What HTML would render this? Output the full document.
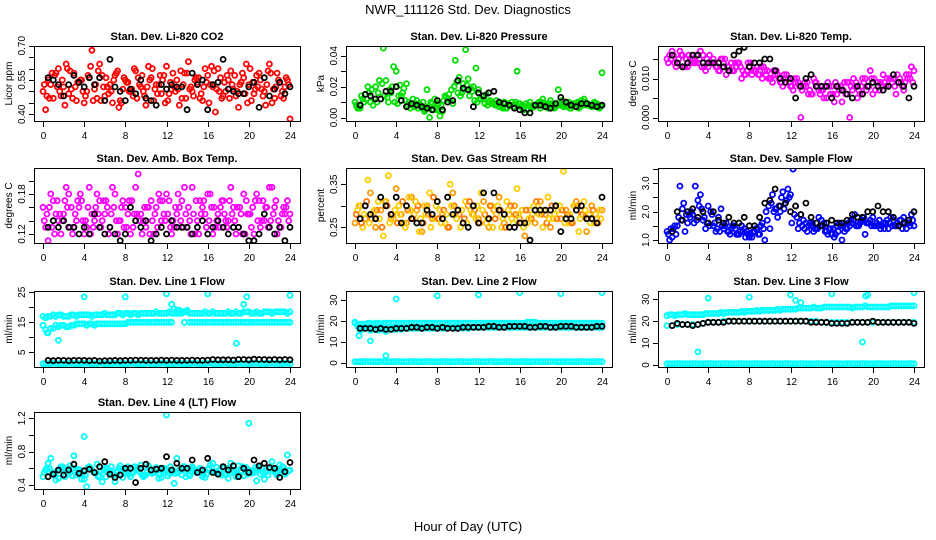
<!DOCTYPE html>
<html><head><meta charset="utf-8"><title>NWR_111126 Std. Dev. Diagnostics</title>
<style>
html,body{margin:0;padding:0;background:#fff;}
svg{display:block;font-family:"Liberation Sans",Arial,sans-serif;}
</style></head>
<body>
<svg id="chart" width="936" height="540" viewBox="0 0 936 540" xmlns="http://www.w3.org/2000/svg">
<text x="468" y="14" text-anchor="middle" font-size="13">NWR_111126  Std. Dev. Diagnostics</text>
<text x="468" y="531" text-anchor="middle" font-size="13">Hour of Day (UTC)</text>
</svg>
<script>
// shared hour categories
const hoursA = [0,0.5,1,1.5,2,2.5,3,3.5,4,4.5,5,5.5,6,6.5,7,7.5,8,8.5,9,9.5,10,10.5,11,11.5,12,12.5,13,13.5,14,14.5,15,15.5,16,16.5,17,17.5,18,18.5,19,19.5,20,20.5,21,21.5,22,22.5,23,23.5,24];
const hoursB = [0.25,0.75,1.25,1.75,2.25,2.75,3.25,3.75,4.25,4.75,5.25,5.75,6.25,6.75,7.25,7.75,8.25,8.75,9.25,9.75,10.25,10.75,11.25,11.75,12.25,12.75,13.25,13.75,14.25,14.75,15.25,15.75,16.25,16.75,17.25,17.75,18.25,18.75,19.25,19.75,20.25,20.75,21.25,21.75,22.25,22.75,23.25,23.75];
const hoursC = [0.125,0.625,1.125,1.625,2.125,2.625,3.125,3.625,4.125,4.625,5.125,5.625,6.125,6.625,7.125,7.625,8.125,8.625,9.125,9.625,10.125,10.625,11.125,11.625,12.125,12.625,13.125,13.625,14.125,14.625,15.125,15.625,16.125,16.625,17.125,17.625,18.125,18.625,19.125,19.625,20.125,20.625,21.125,21.625,22.125,22.625,23.125,23.625];
const hoursD = [0.375,0.875,1.375,1.875,2.375,2.875,3.375,3.875,4.375,4.875,5.375,5.875,6.375,6.875,7.375,7.875,8.375,8.875,9.375,9.875,10.375,10.875,11.375,11.875,12.375,12.875,13.375,13.875,14.375,14.875,15.375,15.875,16.375,16.875,17.375,17.875,18.375,18.875,19.375,19.875,20.375,20.875,21.375,21.875,22.375,22.875,23.375,23.875];
const hoursK = [0.5,1,1.5,2,2.5,3,3.5,4,4.5,5,5.5,6,6.5,7,7.5,8,8.5,9,9.5,10,10.5,11,11.5,12,12.5,13,13.5,14,14.5,15,15.5,16,16.5,17,17.5,18,18.5,19,19.5,20,20.5,21,21.5,22,22.5,23,23.5,24];
const xTicks = [0,4,8,12,16,20,24];

// CO2
const co2A = [0.50,0.55,0.47,0.60,0.52,0.49,0.58,0.54,0.45,0.56,0.51,0.62,0.48,0.53,0.57,0.46,0.55,0.50,0.59,0.52,0.44,0.56,0.53,0.49,0.61,0.51,0.55,0.47,0.58,0.50,0.54,0.46,0.57,0.52,0.60,0.48,0.55,0.51,0.43,0.56,0.53,0.49,0.58,0.50,0.62,0.47,0.54,0.52,0.38];
const co2B = [0.42,0.53,0.58,0.48,0.62,0.51,0.46,0.55,0.50,0.68,0.47,0.57,0.52,0.45,0.59,0.51,0.54,0.48,0.56,0.50,0.61,0.46,0.53,0.57,0.49,0.52,0.44,0.58,0.51,0.55,0.47,0.60,0.53,0.41,0.56,0.50,0.59,0.48,0.54,0.62,0.46,0.57,0.51,0.53,0.45,0.58,0.50,0.55];
const co2C = [0.53,0.47,0.57,0.50,0.44,0.59,0.52,0.55,0.48,0.61,0.53,0.46,0.56,0.50,0.58,0.45,0.54,0.51,0.47,0.57,0.52,0.60,0.49,0.55,0.46,0.58,0.51,0.53,0.63,0.48,0.56,0.52,0.45,0.59,0.50,0.54,0.47,0.57,0.53,0.49,0.60,0.51,0.55,0.44,0.58,0.52,0.48,0.56];
const co2D = [0.48,0.58,0.52,0.55,0.60,0.47,0.54,0.50,0.57,0.46,0.59,0.52,0.49,0.55,0.43,0.56,0.50,0.60,0.53,0.48,0.55,0.51,0.57,0.45,0.54,0.50,0.59,0.47,0.52,0.56,0.49,0.54,0.61,0.51,0.47,0.57,0.53,0.50,0.58,0.45,0.54,0.52,0.48,0.59,0.51,0.55,0.47,0.53];
const co2K = [0.56,0.55,0.53,0.48,0.53,0.57,0.54,0.52,0.56,0.53,0.56,0.46,0.64,0.52,0.50,0.46,0.51,0.49,0.55,0.47,0.46,0.44,0.53,0.51,0.53,0.52,0.52,0.42,0.58,0.53,0.55,0.42,0.53,0.54,0.64,0.51,0.50,0.49,0.49,0.52,0.54,0.43,0.56,0.48,0.51,0.54,0.49,0.52];
// Pressure
const presA = [0.010,0.006,0.015,0.010,0.020,0.012,0.024,0.016,0.030,0.014,0.022,0.008,0.011,0.006,0.018,0.009,0.005,0.004,0.012,0.009,0.016,0.022,0.025,0.020,0.018,0.012,0.010,0.009,0.007,0.010,0.008,0.006,0.009,0.007,0.010,0.008,0.006,0.009,0.011,0.007,0.008,0.010,0.006,0.009,0.011,0.008,0.007,0.009,0.029];
const presB = [0.006,0.012,0.020,0.008,0.016,0.045,0.010,0.033,0.014,0.019,0.010,0.007,0.009,0.004,0.000,0.012,0.001,0.014,0.011,0.037,0.014,0.044,0.019,0.032,0.012,0.015,0.009,0.011,0.007,0.006,0.010,0.030,0.008,0.005,0.007,0.009,0.012,0.006,0.008,0.018,0.007,0.010,0.009,0.006,0.012,0.008,0.010,0.006];
const presC = [0.008,0.014,0.012,0.018,0.010,0.022,0.013,0.020,0.009,0.016,0.008,0.012,0.006,0.010,0.007,0.005,0.009,0.011,0.015,0.020,0.026,0.018,0.014,0.011,0.012,0.009,0.011,0.008,0.009,0.006,0.008,0.010,0.007,0.009,0.006,0.008,0.010,0.007,0.009,0.008,0.011,0.007,0.009,0.010,0.008,0.009,0.007,0.008];
const presD = [0.006,0.010,0.016,0.012,0.024,0.014,0.018,0.010,0.021,0.011,0.006,0.009,0.008,0.005,0.010,0.006,0.008,0.013,0.018,0.023,0.016,0.021,0.017,0.010,0.014,0.008,0.010,0.009,0.006,0.009,0.007,0.009,0.005,0.008,0.007,0.010,0.008,0.009,0.006,0.010,0.008,0.006,0.009,0.007,0.010,0.008,0.009,0.007];
const presK = [0.008,0.015,0.014,0.012,0.012,0.017,0.017,0.020,0.011,0.007,0.009,0.008,0.007,0.006,0.005,0.011,0.005,0.010,0.011,0.024,0.019,0.018,0.007,0.016,0.014,0.016,0.017,0.010,0.009,0.008,0.006,0.005,0.003,0.003,0.008,0.008,0.007,0.006,0.009,0.013,0.010,0.008,0.007,0.009,0.009,0.008,0.007,0.008];
// Li-820 Temp
const tempA = [0.015,0.017,0.014,0.016,0.013,0.015,0.014,0.016,0.013,0.015,0.012,0.014,0.013,0.012,0.014,0.011,0.013,0.012,0.011,0.012,0.010,0.011,0.009,0.010,0.008,0.009,0.000,0.008,0.006,0.009,0.007,0.005,0.008,0.006,0.004,0.009,0.007,0.005,0.010,0.008,0.006,0.009,0.011,0.008,0.010,0.009,0.007,0.011,0.012];
const tempB = [0.016,0.014,0.017,0.013,0.015,0.014,0.017,0.012,0.014,0.013,0.015,0.011,0.014,0.013,0.010,0.012,0.011,0.013,0.010,0.012,0.009,0.011,0.008,0.010,0.007,0.009,0.008,0.006,0.010,0.007,0.005,0.008,0.004,0.007,0.009,0.000,0.008,0.006,0.010,0.012,0.007,0.009,0.008,0.010,0.006,0.009,0.011,0.013];
const tempC = [0.014,0.016,0.015,0.013,0.016,0.014,0.015,0.013,0.016,0.014,0.012,0.015,0.012,0.014,0.013,0.011,0.014,0.012,0.013,0.011,0.010,0.012,0.009,0.011,0.008,0.010,0.007,0.009,0.006,0.008,0.007,0.009,0.006,0.008,0.007,0.009,0.010,0.007,0.009,0.008,0.010,0.007,0.009,0.010,0.008,0.010,0.009,0.010];
const tempD = [0.015,0.013,0.016,0.015,0.014,0.016,0.013,0.015,0.014,0.013,0.015,0.013,0.012,0.014,0.012,0.014,0.012,0.011,0.013,0.010,0.012,0.010,0.011,0.009,0.010,0.008,0.009,0.007,0.009,0.006,0.008,0.006,0.009,0.008,0.006,0.008,0.009,0.008,0.007,0.010,0.009,0.008,0.010,0.009,0.011,0.008,0.010,0.009];
const tempK = [0.016,0.014,0.013,0.014,0.016,0.016,0.014,0.014,0.014,0.014,0.013,0.012,0.016,0.017,0.018,0.013,0.014,0.014,0.015,0.015,0.012,0.010,0.009,0.010,0.005,0.008,0.010,0.011,0.008,0.008,0.008,0.005,0.008,0.007,0.006,0.005,0.008,0.006,0.008,0.009,0.008,0.007,0.008,0.011,0.009,0.008,0.005,0.008];
// Amb box temp
const ambA = [0.16,0.11,0.17,0.14,0.15,0.18,0.13,0.16,0.12,0.19,0.14,0.17,0.15,0.13,0.18,0.14,0.16,0.12,0.19,0.15,0.13,0.17,0.16,0.14,0.18,0.12,0.15,0.17,0.13,0.19,0.14,0.16,0.18,0.12,0.15,0.17,0.14,0.16,0.13,0.18,0.15,0.12,0.17,0.14,0.19,0.16,0.13,0.15,0.15];
const ambB = [0.13,0.18,0.15,0.12,0.19,0.16,0.14,0.17,0.13,0.15,0.18,0.14,0.16,0.19,0.12,0.17,0.15,0.13,0.21,0.14,0.16,0.12,0.18,0.15,0.17,0.13,0.16,0.19,0.14,0.12,0.17,0.15,0.18,0.13,0.16,0.14,0.19,0.12,0.15,0.17,0.13,0.18,0.14,0.16,0.19,0.12,0.15,0.17];
const ambC = [0.14,0.16,0.12,0.15,0.17,0.13,0.15,0.18,0.14,0.12,0.16,0.13,0.17,0.15,0.14,0.16,0.13,0.17,0.15,0.12,0.16,0.14,0.13,0.17,0.15,0.14,0.18,0.13,0.16,0.15,0.12,0.17,0.14,0.16,0.13,0.15,0.17,0.14,0.16,0.12,0.15,0.17,0.13,0.16,0.14,0.17,0.13,0.16];
const ambD = [0.15,0.13,0.17,0.14,0.16,0.12,0.17,0.14,0.16,0.13,0.15,0.17,0.12,0.16,0.14,0.13,0.17,0.15,0.14,0.16,0.12,0.15,0.17,0.14,0.13,0.16,0.14,0.15,0.12,0.17,0.15,0.13,0.16,0.14,0.17,0.13,0.15,0.16,0.12,0.15,0.16,0.14,0.17,0.13,0.15,0.14,0.16,0.14];
const ambK = [0.13,0.14,0.13,0.14,0.13,0.13,0.12,0.13,0.12,0.15,0.13,0.12,0.13,0.12,0.11,0.12,0.16,0.14,0.13,0.14,0.11,0.12,0.13,0.12,0.14,0.13,0.13,0.13,0.12,0.13,0.14,0.12,0.13,0.14,0.13,0.12,0.13,0.13,0.12,0.11,0.11,0.12,0.15,0.13,0.12,0.13,0.11,0.13];
// Gas stream RH
const rhA = [0.26,0.30,0.27,0.33,0.25,0.29,0.31,0.27,0.34,0.28,0.26,0.32,0.29,0.24,0.30,0.27,0.31,0.28,0.25,0.33,0.29,0.26,0.30,0.28,0.27,0.31,0.25,0.29,0.32,0.26,0.28,0.30,0.27,0.23,0.29,0.26,0.31,0.28,0.25,0.30,0.27,0.29,0.26,0.31,0.28,0.24,0.30,0.27,0.29];
const rhB = [0.29,0.25,0.36,0.28,0.31,0.23,0.37,0.27,0.30,0.26,0.32,0.28,0.24,0.30,0.33,0.27,0.29,0.26,0.35,0.28,0.25,0.31,0.29,0.27,0.33,0.26,0.30,0.28,0.25,0.31,0.27,0.34,0.29,0.26,0.28,0.30,0.25,0.32,0.27,0.29,0.38,0.26,0.30,0.24,0.31,0.28,0.26,0.29];
const rhC = [0.28,0.26,0.31,0.27,0.29,0.25,0.30,0.28,0.26,0.31,0.29,0.27,0.30,0.26,0.28,0.32,0.27,0.29,0.25,0.30,0.28,0.27,0.31,0.29,0.26,0.28,0.30,0.27,0.29,0.25,0.30,0.28,0.26,0.29,0.27,0.31,0.28,0.26,0.30,0.27,0.29,0.28,0.26,0.30,0.28,0.27,0.29,0.26];
const rhD = [0.30,0.28,0.26,0.29,0.27,0.31,0.26,0.29,0.28,0.25,0.29,0.31,0.27,0.28,0.25,0.30,0.26,0.28,0.30,0.27,0.29,0.26,0.28,0.30,0.29,0.27,0.25,0.30,0.27,0.29,0.26,0.28,0.25,0.27,0.30,0.28,0.29,0.27,0.28,0.30,0.26,0.28,0.30,0.27,0.29,0.26,0.28,0.27];
const rhK = [0.27,0.30,0.28,0.27,0.32,0.30,0.28,0.32,0.26,0.30,0.27,0.26,0.26,0.29,0.28,0.31,0.27,0.32,0.28,0.29,0.26,0.25,0.30,0.26,0.33,0.27,0.33,0.29,0.28,0.25,0.25,0.26,0.26,0.22,0.29,0.29,0.29,0.29,0.30,0.24,0.27,0.27,0.29,0.30,0.27,0.27,0.26,0.32];
// Sample flow
const sfA = [1.3,1.1,1.5,2.1,1.6,1.9,2.4,1.7,2.2,1.5,1.8,1.4,1.3,1.5,1.2,1.4,1.1,1.3,1.2,1.0,1.4,2.1,2.0,2.3,2.6,2.2,1.9,1.6,1.5,1.4,1.7,1.3,1.2,1.5,1.0,1.4,1.6,1.5,1.7,1.6,1.8,1.5,1.6,1.4,1.7,1.5,1.8,1.6,1.5];
const sfB = [1.0,1.5,2.9,1.3,1.8,2.9,2.6,1.4,2.0,1.3,2.1,1.6,1.4,1.2,1.5,1.3,1.1,1.4,1.6,1.7,2.6,1.8,2.7,2.8,3.5,1.4,1.7,1.5,1.3,1.8,1.6,1.4,1.1,1.6,1.3,1.5,1.9,1.6,1.2,1.7,1.5,1.4,1.6,1.8,1.5,1.7,1.4,1.9];
const sfC = [1.2,1.4,1.8,2.3,1.9,1.6,2.2,1.8,1.5,1.6,1.3,1.5,1.2,1.4,1.3,1.1,1.2,1.4,1.5,2.0,2.3,2.1,2.5,2.4,1.6,1.8,1.5,1.3,1.6,1.4,1.5,1.2,1.4,1.3,1.5,1.6,1.7,1.5,1.8,1.6,1.5,1.7,1.4,1.6,1.5,1.7,1.6,1.5];
const sfD = [1.4,1.2,1.7,1.9,2.0,1.7,2.1,1.6,1.9,1.4,1.5,1.3,1.5,1.2,1.3,1.2,1.3,1.2,1.4,2.2,2.0,2.2,2.1,2.5,1.9,1.6,1.4,1.6,1.4,1.5,1.3,1.4,1.2,1.5,1.4,1.7,1.5,1.7,1.6,1.5,1.6,1.5,1.7,1.5,1.6,1.4,1.6,1.7];
const sfK = [1.3,2.0,1.7,2.0,2.1,1.8,2.0,1.6,2.0,1.7,1.6,1.8,1.6,1.6,1.8,1.5,1.5,1.8,2.3,2.4,2.8,2.2,2.3,2.0,2.2,1.9,2.3,1.8,1.6,1.5,1.6,1.7,1.6,1.6,1.7,1.9,1.8,1.8,2.0,2.0,2.2,2.0,2.0,1.8,1.5,1.6,1.7,2.0];
// Line 1 flow
const l1Upper = [17,17,17.5,17.5,17,17,17.5,17.5,17.5,17.5,17.5,17.5,18,17.5,17.5,18,18,17.5,18,18,18,18,18.5,18,18,18,18,18,18.5,18,18,18,18,18.5,18,18,18.5,18,18,18.5,18.5,18,18,18.5,18.5,18.5,18.5,18.5,18.5];
const l1Upper2 = [16.5,17,17,17.5,17,17.5,17,17.5,17.5,17,17.5,17.5,17.5,17.5,18,17.5,18,18,17.5,18,18,18,18,18,18.5,18,18,18.5,18,18,18,18.5,18,18,18,18,18,18.5,18,18.5,18,18.5,18,18.5,18,18.5,18.5,18];
const l1Lower = [14,11.5,13,13.5,14,13.5,14,14.5,14.5,14.5,14,14.5,14.5,14.5,14.5,14.5,14.5,15,15,15,15,15,15,15,15,15,19,18.5,19,15,15,15,15,15,15,15,15,15,15,15,15,15,15,15,15,15,15,15,15];
const l1Lower2 = [12.5,13,14,14,13.5,14,14.5,14.5,14,14.5,14.5,14.5,14.5,14.5,14.5,14.5,15,15,15,15,15,15,15,15,15,19.5,19,15,15,15,15,15,15,15,15,15,15,15,15,15,15,15,15,15,15,15,15,15];
const l1Base = [1.2,1.2,1.3,1.2,1.2,1.3,1.2,1.2,1.3,1.2,1.2,1.3,1.2,1.2,1.3,1.2,1.2,1.3,1.2,1.2,1.3,1.2,1.2,1.3,1.2,1.2,1.3,1.2,1.2,1.3,1.2,1.2,1.3,1.2,1.2,1.3,1.2,1.2,1.3,1.2,1.2,1.3,1.2,1.2,1.3,1.2,1.2,1.3,1.2];
const l1OutHours = [0,0.4,1.5,4,8,12,12.5,16,18.8,19.5,19.8,24];
const l1OutVals = [14,11.5,9,23.5,23.5,24.5,21,24.5,8,21,23.5,24];
const l1K = [2.3,2.2,2.3,2.3,2.2,2.3,2.3,2.3,2.2,2.3,2.1,2.2,2.2,2.3,2.2,2.3,2.3,2.4,2.4,2.3,2.3,2.3,2.4,2.3,2.4,2.3,2.3,2.3,2.4,2.3,2.3,2.4,2.6,2.5,2.5,2.5,2.4,2.6,2.6,2.5,2.7,2.6,2.6,2.5,2.6,2.5,2.6,2.5];
// Line 2 flow
const l2Upper = [19,18.5,18.5,19,19,18.5,19,19,19,19,19,19,19,19,19,19,19,19,19,19,19,19,19,19,19,19,19,19,19,19,19,19,19,19,19.5,19.5,19,19,19,19,19,19,19,19,19,19,19,19,19];
const l2Upper2 = [18.5,18.5,19,18.5,19,19,19,19,19,19,19,19,19,19,19,19,19,19,19,19,19,19,19,19,19,19,19,19,19,19,19,19,19,19.5,19.5,19,19,19,19,19,19,19,19,19,19,19,19,19];
const l2Lower = [19.5,15.5,17,15.5,16,16,15,16,16,16,16.5,16.5,16.5,16.5,16.5,16.5,16.5,16.5,16.5,16.5,16.5,16.5,16.5,17,17,17,17,17,17,17,17,17,17,17,17,17,17,17,17,17,17,17,17,17,17,17,17,17,17];
const l2Lower2 = [17.5,16,16.5,16,15.5,16,16,16,16.5,16.5,16.5,16.5,16.5,16.5,16.5,16.5,17,16.5,17,16.5,17,17,17,17,17,17,17,17,17,17,17,17,17,17,17,17,17,17,17,17,17,17,17,17,17,17,17,17];
const l2Base = [0.6,0.6,0.7,0.6,0.6,0.7,0.6,0.6,0.7,0.6,0.6,0.7,0.6,0.6,0.7,0.6,0.6,0.7,0.6,0.6,0.7,0.6,0.6,0.7,0.6,0.6,0.7,0.6,0.6,0.7,0.6,0.6,0.7,0.6,0.6,0.7,0.6,0.6,0.7,0.6,0.6,0.7,0.6,0.6,0.7,0.6,0.6,0.7,0.6];
const l2OutHours = [0.4,1.5,3,4,8,12,16,20,24];
const l2OutVals = [13,10.5,3.5,30.5,32,32.5,33.5,33,33.5];
const l2K = [16.5,16.5,16.5,16,16.5,16,16,16.5,16.5,16.5,17,17,16.5,17,17,16.5,17,16.5,16.5,16.5,17,17,17,17,17,17.5,17.5,17,17,17.5,17.5,17.5,17.5,17,17,17.5,17.5,17,17,17.5,17.5,17.5,17,17,17,17,17.5,17.5];
// Line 3 flow
const l3Upper = [22.5,23,23,23,23,23,23,23,23.5,23.5,23.5,23.5,24,24,24,24,24.5,24.5,24.5,25,25,25,25,25.5,25.5,25.5,26,26,26,26,26,26.5,26.5,26.5,26.5,26.5,26,26.5,26.5,26.5,26.5,26.5,26.5,26.5,27,27,27,27,27];
const l3Upper2 = [23,22.5,23,23.5,23,23,23,23.5,23.5,23.5,24,24,24,24,24.5,24.5,24.5,25,25,25,25,25.5,25.5,25.5,25.5,26,26,26,26.5,26,26.5,26.5,26.5,26.5,26.5,26.5,26.5,26.5,27,26.5,26.5,26.5,26.5,27,27,27,27,27];
const l3Mid = [18,18,18.5,18.5,18.5,18.5,18.5,19,19.5,19.5,19.5,20,20,20,20,20,20,20,20,20,20,20,20,20,20,20,20,20,20,20,19.5,19.5,19.5,19.5,19.5,19.5,19.5,19.5,19.5,19.5,19.5,19.5,19.5,19.5,19.5,19.5,19.5,19.5,19.5];
const l3Base = [0.6,0.6,0.7,0.6,0.6,0.7,0.6,0.6,0.7,0.6,0.6,0.7,0.6,0.6,0.7,0.6,0.6,0.7,0.6,0.6,0.7,0.6,0.6,0.7,0.6,0.6,0.7,0.6,0.6,0.7,0.6,0.6,0.7,0.6,0.6,0.7,0.6,0.6,0.7,0.6,0.6,0.7,0.6,0.6,0.7,0.6,0.6,0.7,0.6];
const l3OutHours = [3,4,8,12,12.5,13,16,19,19.3,19.5,24];
const l3OutVals = [6,30.5,31,32,29.5,28.5,32.5,10.5,31.5,32,33];
const l3K = [18,19,18.5,18.5,18,18.5,19,19.5,19.5,19.5,19.5,20,20,20,20,20,20,20,20,20,20,20,20,20,20,20,20,19.5,19.5,19.5,19.5,19,19,19,19,19.5,19.5,19.5,19.5,20,19.5,19.5,19.5,19.5,19.5,19.5,19.5,19];
// Line 4 (LT) flow
const l4A = [0.50,0.66,0.55,0.48,0.60,0.53,0.75,0.58,0.47,0.62,0.55,0.51,0.60,0.57,0.44,0.63,0.55,0.50,0.58,0.64,0.52,0.57,0.61,0.49,0.59,0.55,0.72,0.52,0.58,0.62,0.55,0.50,0.59,0.66,0.54,0.60,0.48,0.57,0.63,0.51,0.58,0.55,0.62,0.47,0.59,0.56,0.64,0.53,0.58];
const l4B = [0.58,0.72,0.46,0.62,0.55,0.60,0.52,0.47,0.38,0.58,0.65,0.44,0.60,0.53,0.57,0.49,0.62,0.55,0.59,0.50,0.63,0.56,0.48,0.60,0.54,0.42,0.58,0.62,0.51,0.56,0.60,0.49,0.64,0.55,0.58,0.52,0.66,0.50,0.57,0.61,0.54,0.45,0.60,0.56,0.68,0.52,0.62,0.76];
const l4C = [0.55,0.60,0.52,0.58,0.50,0.63,0.55,0.58,0.52,0.60,0.54,0.57,0.50,0.62,0.56,0.53,0.59,0.55,0.61,0.52,0.57,0.54,0.60,0.56,0.51,0.58,0.55,0.62,0.53,0.59,0.56,0.52,0.60,0.55,0.58,0.53,0.61,0.56,0.52,0.59,0.55,0.61,0.53,0.57,0.60,0.54,0.58,0.55];
const l4D = [0.60,0.53,0.57,0.62,0.55,0.51,0.59,0.54,0.61,0.56,0.50,0.58,0.55,0.52,0.60,0.57,0.53,0.62,0.56,0.51,0.59,0.55,0.53,0.58,0.62,0.54,0.57,0.50,0.60,0.55,0.58,0.53,0.56,0.61,0.52,0.59,0.55,0.58,0.62,0.53,0.57,0.60,0.55,0.52,0.58,0.56,0.61,0.57];
const l4OutHours = [4,12,20];
const l4OutVals = [0.98,1.24,1.14];
const l4K = [0.50,0.53,0.58,0.52,0.58,0.65,0.54,0.57,0.59,0.55,0.62,0.68,0.53,0.49,0.52,0.60,0.60,0.43,0.60,0.65,0.58,0.59,0.60,0.74,0.58,0.66,0.60,0.60,0.70,0.55,0.58,0.72,0.55,0.53,0.62,0.58,0.63,0.50,0.60,0.55,0.70,0.63,0.66,0.61,0.60,0.49,0.56,0.67];

const panels = [
 {name:'co2',title:'Stan. Dev. Li-820 CO2',ylab:'Licor ppm',col:0,row:0,a:[0.40,114.3],b:[0.70,45.7],ticks:[0.40,0.45,0.50,0.55,0.60,0.65,0.70],labels:['0.40','0.55','0.70'],labelVals:[0.40,0.55,0.70],
  series:[[hoursA,co2A,'#ff0000'],[hoursB,co2B,'#ff0000'],[hoursC,co2C,'#ff0000'],[hoursD,co2D,'#ff0000'],[hoursK,co2K,'#000000']]},
 {name:'pressure',title:'Stan. Dev. Li-820 Pressure',ylab:'kPa',col:1,row:0,a:[0,117.5],b:[0.04,55.8],ticks:[0,0.01,0.02,0.03,0.04],labels:['0.00','0.02','0.04'],labelVals:[0,0.02,0.04],
  series:[[hoursA,presA,'#00dd00'],[hoursB,presB,'#00dd00'],[hoursC,presC,'#00dd00'],[hoursD,presD,'#00dd00'],[hoursK,presK,'#000000']]},
 {name:'li820-temp',title:'Stan. Dev. Li-820 Temp.',ylab:'degrees C',col:2,row:0,a:[0,117.5],b:[0.015,59],ticks:[0,0.005,0.010,0.015],labels:['0.000','0.010'],labelVals:[0,0.010],
  series:[[hoursA,tempA,'#ff00ff'],[hoursB,tempB,'#ff00ff'],[hoursC,tempC,'#ff00ff'],[hoursD,tempD,'#ff00ff'],[hoursK,tempK,'#000000']]},
 {name:'amb-box-temp',title:'Stan. Dev. Amb. Box Temp.',ylab:'degrees C',col:0,row:1,a:[0.12,234],b:[0.18,194],ticks:[0.12,0.14,0.16,0.18,0.20],labels:['0.12','0.18'],labelVals:[0.12,0.18],
  series:[[hoursA,ambA,'#ff00ff'],[hoursB,ambB,'#ff00ff'],[hoursC,ambC,'#ff00ff'],[hoursD,ambD,'#ff00ff'],[hoursK,ambK,'#000000']]},
 {name:'gas-stream-rh',title:'Stan. Dev. Gas Stream RH',ylab:'percent',col:1,row:1,a:[0.25,227.3],b:[0.35,184.3],ticks:[0.25,0.30,0.35],labels:['0.25','0.35'],labelVals:[0.25,0.35],
  series:[[hoursA,rhA,'#ff9900'],[hoursB,rhB,'#ffcc00'],[hoursC,rhC,'#ff7700'],[hoursD,rhD,'#ffcc00'],[hoursK,rhK,'#000000']]},
 {name:'sample-flow',title:'Stan. Dev. Sample Flow',ylab:'ml/min',col:2,row:1,a:[1.0,240],b:[3.0,183.3],ticks:[1.0,1.5,2.0,2.5,3.0,3.5],labels:['1.0','2.0','3.0'],labelVals:[1.0,2.0,3.0],
  series:[[hoursA,sfA,'#0000ff'],[hoursB,sfB,'#0000ff'],[hoursC,sfC,'#0000ff'],[hoursD,sfD,'#0000ff'],[hoursK,sfK,'#000000']]},
 {name:'line1-flow',title:'Stan. Dev. Line 1 Flow',ylab:'ml/min',col:0,row:2,a:[5,352.3],b:[25,292.3],ticks:[5,10,15,20,25],labels:['5','15','25'],labelVals:[5,15,25],
  series:[[hoursA,l1Upper,'#00ffff'],[hoursB,l1Upper2,'#00ffff'],[hoursA,l1Lower,'#00ffff'],[hoursB,l1Lower2,'#00ffff'],[hoursA,l1Base,'#00ffff'],[hoursB,l1Base,'#00ffff'],[l1OutHours,l1OutVals,'#00ffff'],[hoursK,l1K,'#000000']]},
 {name:'line2-flow',title:'Stan. Dev. Line 2 Flow',ylab:'ml/min',col:1,row:2,a:[0,363],b:[30,300],ticks:[0,10,20,30],labels:['0','10','20','30'],labelVals:[0,10,20,30],
  series:[[hoursA,l2Upper,'#00ffff'],[hoursB,l2Upper2,'#00ffff'],[hoursA,l2Lower,'#00ffff'],[hoursB,l2Lower2,'#00ffff'],[hoursA,l2Base,'#00ffff'],[hoursB,l2Base,'#00ffff'],[l2OutHours,l2OutVals,'#00ffff'],[hoursK,l2K,'#000000']]},
 {name:'line3-flow',title:'Stan. Dev. Line 3 Flow',ylab:'ml/min',col:2,row:2,a:[0,365],b:[30,299.3],ticks:[0,10,20,30],labels:['0','10','20','30'],labelVals:[0,10,20,30],
  series:[[hoursA,l3Upper,'#00ffff'],[hoursB,l3Upper2,'#00ffff'],[hoursA,l3Mid,'#00ffff'],[hoursA,l3Base,'#00ffff'],[hoursB,l3Base,'#00ffff'],[l3OutHours,l3OutVals,'#00ffff'],[hoursK,l3K,'#000000']]},
 {name:'line4-flow',title:'Stan. Dev. Line 4 (LT) Flow',ylab:'ml/min',col:0,row:3,a:[0.4,485],b:[1.2,418.3],ticks:[0.4,0.6,0.8,1.0,1.2],labels:['0.4','0.8','1.2'],labelVals:[0.4,0.8,1.2],
  series:[[hoursA,l4A,'#00ffff'],[hoursB,l4B,'#00ffff'],[hoursC,l4C,'#00ffff'],[hoursD,l4D,'#00ffff'],[l4OutHours,l4OutVals,'#00ffff'],[hoursK,l4K,'#000000']]}
];

const NS='http://www.w3.org/2000/svg';
const svg=document.getElementById('chart');
const colLeft=[34,346,658], boxW=266;
const rowBox=[[46,121],[168,243],[291,367],[412,489]];
function mk(tag,attrs,parent){const e=document.createElementNS(NS,tag);for(const k in attrs)e.setAttribute(k,attrs[k]);parent.appendChild(e);return e;}

panels.forEach((p,pi)=>{
  const L=colLeft[p.col], T=rowBox[p.row][0], B=rowBox[p.row][1];
  const xs=h=>L+9+h*(247/24);
  const ys=v=>p.a[1]+(v-p.a[0])*(p.b[1]-p.a[1])/(p.b[0]-p.a[0]);
  const g=mk('g',{},svg);
  
  
  const clip=mk('clipPath',{id:'clip'+pi},g);
  mk('rect',{x:L,y:T,width:boxW,height:B-T},clip);
  const pts=mk('g',{'clip-path':'url(#clip'+pi+')'},g);
  
  
  p.series.forEach(s=>{
    const hrs=s[0], vals=s[1], c=s[2];
    vals.forEach((v,i)=>{
      const ci=mk('circle',{cx:xs(hrs[i]).toFixed(1),cy:ys(v).toFixed(1),r:2.5,fill:'none',stroke:c,'stroke-width':1.8},pts);
      
      
    });
  });
  const box=mk('rect',{x:L+0.5,y:T+0.5,width:boxW,height:B-T,fill:'none',stroke:'#000','stroke-width':1},g);
  
  
  const t=mk('text',{x:L+boxW/2,y:T-6,'text-anchor':'middle','font-size':11,'font-weight':'bold'},g);
  t.textContent=p.title;
  
  
  xTicks.forEach(h=>{
    const x=Math.round(xs(h))+0.5;
    mk('line',{x1:x,x2:x,y1:B+0.5,y2:B+6,stroke:'#000','stroke-width':1},g);
    const lt=mk('text',{x:x,y:B+18,'text-anchor':'middle','font-size':10},g);
    lt.textContent=String(h);
    
    
  });
  p.ticks.forEach(v=>{
    const y=Math.round(ys(v))+0.5;
    mk('line',{x1:L-5,x2:L+0.5,y1:y,y2:y,stroke:'#000','stroke-width':1},g);
  });
  p.labelVals.forEach((v,i)=>{
    const y=ys(v);
    const lt=mk('text',{x:0,y:0,'text-anchor':'middle','font-size':10,transform:'translate('+(L-9)+','+y.toFixed(1)+') rotate(-90)'},g);
    lt.textContent=p.labels[i];
    
    
  });
  const yt=mk('text',{x:0,y:0,'text-anchor':'middle','font-size':10,transform:'translate('+(L-22)+','+((T+B)/2)+') rotate(-90)'},g);
  yt.textContent=p.ylab;
  
  
});
</script>
</body></html>
